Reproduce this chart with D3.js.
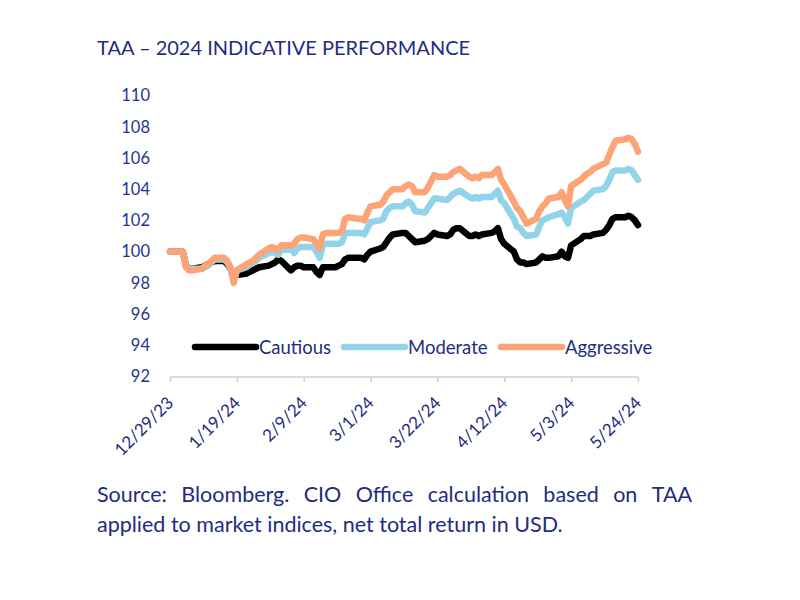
<!DOCTYPE html>
<html>
<head>
<meta charset="utf-8">
<script src="https://cdn.jsdelivr.net/npm/d3@7"></script>
<style>
  html, body { margin: 0; padding: 0; background: #ffffff; }
  svg { display: block; font-family: Lato, "Open Sans", sans-serif; }
</style>
</head>
<body>
<svg id="chart" width="800" height="600"></svg>
<script>
// ---- DATA ----
const titleText = "TAA \u2013 2024 INDICATIVE PERFORMANCE";
const sourceLines = [
  "Source: Bloomberg. CIO Office calculation based on TAA",
  "applied to market indices, net total return in USD."
];
const startDate = "2023-12-29";
const endDate = "2024-05-24";
const tickDates = ["2023-12-29", "2024-01-19", "2024-02-09", "2024-03-01", "2024-03-22", "2024-04-12", "2024-05-03", "2024-05-24"];
const yTicks = [92, 94, 96, 98, 100, 102, 104, 106, 108, 110];
const seriesNames = ["Cautious", "Moderate", "Aggressive"];

// business-day values, 12/29/23 .. 5/24/24
const cautious = [
  100.0,
  100.0, 100.0, 99.1, 98.9, 98.9,
  99.0, 99.1, 99.2, 99.3, 99.4,
  99.4, 99.2, 98.9, 98.3, 98.5,
  98.6, 98.7, 98.8, 98.9, 99.0,
  99.1, 99.2, 99.3, 99.5, 99.4,
  98.8, 99.0, 99.1, 99.1, 99.0,
  99.0, 98.7, 98.5, 99.0, 99.0,
  99.0, 99.1, 99.2, 99.5, 99.6,
  99.6, 99.6, 99.5, 99.8, 100.0,
  100.2, 100.3, 100.6, 100.9, 101.1,
  101.2, 101.2, 101.0, 100.8, 100.6,
  100.7, 100.8, 101.0, 101.2, 101.1,
  101.0, 101.1, 101.4, 101.5, 101.5,
  101.0, 101.0, 101.1, 101.0, 101.1,
  101.2, 101.3, 101.5, 100.8, 100.5,
  100.0, 99.5, 99.3, 99.3, 99.2,
  99.3, 99.5, 99.7, 99.6, 99.6,
  99.7, 100.0, 99.7, 99.6, 100.4,
  100.8, 101.0, 101.0, 101.0, 101.1,
  101.2, 101.4, 101.7, 102.1, 102.2,
  102.2, 102.3, 102.2, 102.0, 101.7
];
const moderate = [
  100.0,
  100.0, 100.0, 99.1, 98.9, 98.9,
  98.9, 99.0, 99.1, 99.3, 99.5,
  99.5, 99.3, 98.9, 98.1, 98.8,
  99.0, 99.2, 99.3, 99.4, 99.6,
  99.9, 100.0, 99.9, 99.8, 100.1,
  100.2, 99.9, 100.2, 100.3, 100.3,
  100.3, 100.0, 99.6, 100.4, 100.5,
  100.5, 100.5, 100.6, 101.2, 101.2,
  101.2, 101.2, 101.1, 101.5, 101.9,
  102.0, 102.1, 102.6, 102.8, 102.9,
  102.9, 103.1, 103.2, 103.0, 102.6,
  102.5, 102.8, 103.1, 103.4, 103.4,
  103.3, 103.5, 103.7, 103.8, 103.9,
  103.5, 103.4, 103.5, 103.4, 103.5,
  103.5, 103.7, 103.9, 103.3, 103.1,
  102.1, 101.6, 101.5, 101.2, 101.0,
  101.1, 101.6, 102.0, 102.1, 102.2,
  102.4, 102.5, 102.2, 101.8, 102.8,
  103.2, 103.3, 103.5, 103.7, 103.9,
  104.0, 104.2, 104.6, 105.1, 105.2,
  105.2, 105.3, 105.2, 104.9, 104.6
];
const aggressive = [
  100.0,
  100.0, 100.0, 99.0, 98.8, 98.8,
  98.9, 99.1, 99.2, 99.4, 99.6,
  99.6, 99.4, 99.0, 98.0, 98.8,
  99.2, 99.3, 99.4, 99.6, 99.8,
  100.2, 100.3, 100.2, 100.1, 100.4,
  100.4, 100.5, 100.8, 100.9, 100.9,
  100.8, 100.5, 100.2, 101.1, 101.2,
  101.2, 101.2, 101.3, 102.1, 102.2,
  102.1, 102.1, 102.0, 102.5, 102.9,
  103.0, 103.2, 103.6, 103.8, 104.0,
  104.0, 104.2, 104.3, 104.2, 103.8,
  103.8, 104.1, 104.5, 104.9, 104.8,
  104.8, 104.9, 105.1, 105.2, 105.3,
  104.8, 104.7, 104.8, 104.7, 104.9,
  104.9, 105.1, 105.3, 104.6, 104.3,
  103.2, 102.8, 102.6, 102.2, 101.8,
  102.1, 102.6, 102.9, 103.1, 103.4,
  103.5, 103.8, 103.3, 102.9, 104.2,
  104.6, 104.8, 105.0, 105.1, 105.3,
  105.6, 105.7, 106.2, 106.7, 107.1,
  107.2, 107.3, 107.2, 106.9, 106.4
];
const seriesColors = ["#000000", "#92D3EA", "#FCA476"];

// ---- BUILD ----
const parse = d3.utcParse("%Y-%m-%d");
const allDays = d3.utcDay.range(parse(startDate), d3.utcDay.offset(parse(endDate), 1));
const bizDays = allDays.filter(d => d.getUTCDay() !== 0 && d.getUTCDay() !== 6);
const seriesValues = [cautious, moderate, aggressive];

const svg = d3.select("#chart");
const navy = "#1F2C80";

const x = d3.scaleUtc().domain([parse(startDate), parse(endDate)]).range([170, 638]);
const y = d3.scaleLinear().domain([92, 110]).range([376.5, 95.5]);

// title
svg.append("text")
  .attr("x", 97).attr("y", 55)
  .attr("fill", navy)
  .style("font-size", "20px")
  .text(titleText);

// y axis
const yAxis = svg.append("g")
  .attr("transform", "translate(150,0)")
  .call(d3.axisLeft(y).tickValues(yTicks).tickSize(0).tickPadding(0).tickFormat(d3.format("d")));
yAxis.select(".domain").remove();
yAxis.selectAll("text")
  .attr("fill", "#1F3590")
  .style("font-size", "16.5px")
  .style("font-family", "Lato, sans-serif");

// x axis
const xAxis = svg.append("g")
  .attr("transform", "translate(0,377)")
  .call(d3.axisBottom(x).tickValues(tickDates.map(parse)).tickSize(5).tickFormat(d3.utcFormat("%-m/%-d/%y")));
xAxis.select(".domain").attr("stroke", "#D0D0D0").attr("stroke-width", 1.5).attr("d", "M170,0H638");
xAxis.selectAll(".tick line").attr("stroke", "#D0D0D0").attr("stroke-width", 1.5);
xAxis.selectAll("text")
  .attr("fill", navy)
  .style("font-size", "17px")
  .style("font-family", "Lato, sans-serif")
  .attr("text-anchor", "end")
  .attr("dy", null)
  .attr("y", 0)
  .attr("transform", "translate(4,27) rotate(-45)");

// lines
const line = d3.line()
  .x((d, i) => x(bizDays[i]))
  .y(d => y(d));

seriesValues.forEach((vals, k) => {
  svg.append("path")
    .datum(vals)
    .attr("fill", "none")
    .attr("stroke", seriesColors[k])
    .attr("stroke-width", 6.5)
    .attr("stroke-linejoin", "round")
    .attr("stroke-linecap", "round")
    .attr("d", line);
});

// legend
const legendX = [195, 344, 501];
const legendY = 347;
seriesNames.forEach((name, k) => {
  svg.append("line")
    .attr("x1", legendX[k]).attr("x2", legendX[k] + 61)
    .attr("y1", legendY).attr("y2", legendY)
    .attr("stroke", seriesColors[k])
    .attr("stroke-width", 6.5)
    .attr("stroke-linecap", "round");
  svg.append("text")
    .attr("x", legendX[k] + 64).attr("y", legendY + 6.5)
    .attr("fill", navy)
    .style("font-size", "18.5px")
    .text(name);
});

// source (first line justified)
const srcLeft = 97, srcRight = 692, srcSize = "21.5px";
sourceLines.forEach((ln, li) => {
  const yy = 502 + li * 30;
  if (li === 0) {
    const words = ln.split(" ");
    const widths = words.map(w => {
      const t = svg.append("text").style("font-size", srcSize).text(w);
      const wd = t.node().getComputedTextLength();
      t.remove();
      return wd;
    });
    const gap = (srcRight - srcLeft - d3.sum(widths)) / (words.length - 1);
    let cx = srcLeft;
    words.forEach((w, i) => {
      svg.append("text").attr("x", cx).attr("y", yy)
        .attr("fill", navy).style("font-size", srcSize).text(w);
      cx += widths[i] + gap;
    });
  } else {
    svg.append("text").attr("x", srcLeft).attr("y", yy)
      .attr("fill", navy).style("font-size", srcSize).text(ln);
  }
});
</script>
</body>
</html>
